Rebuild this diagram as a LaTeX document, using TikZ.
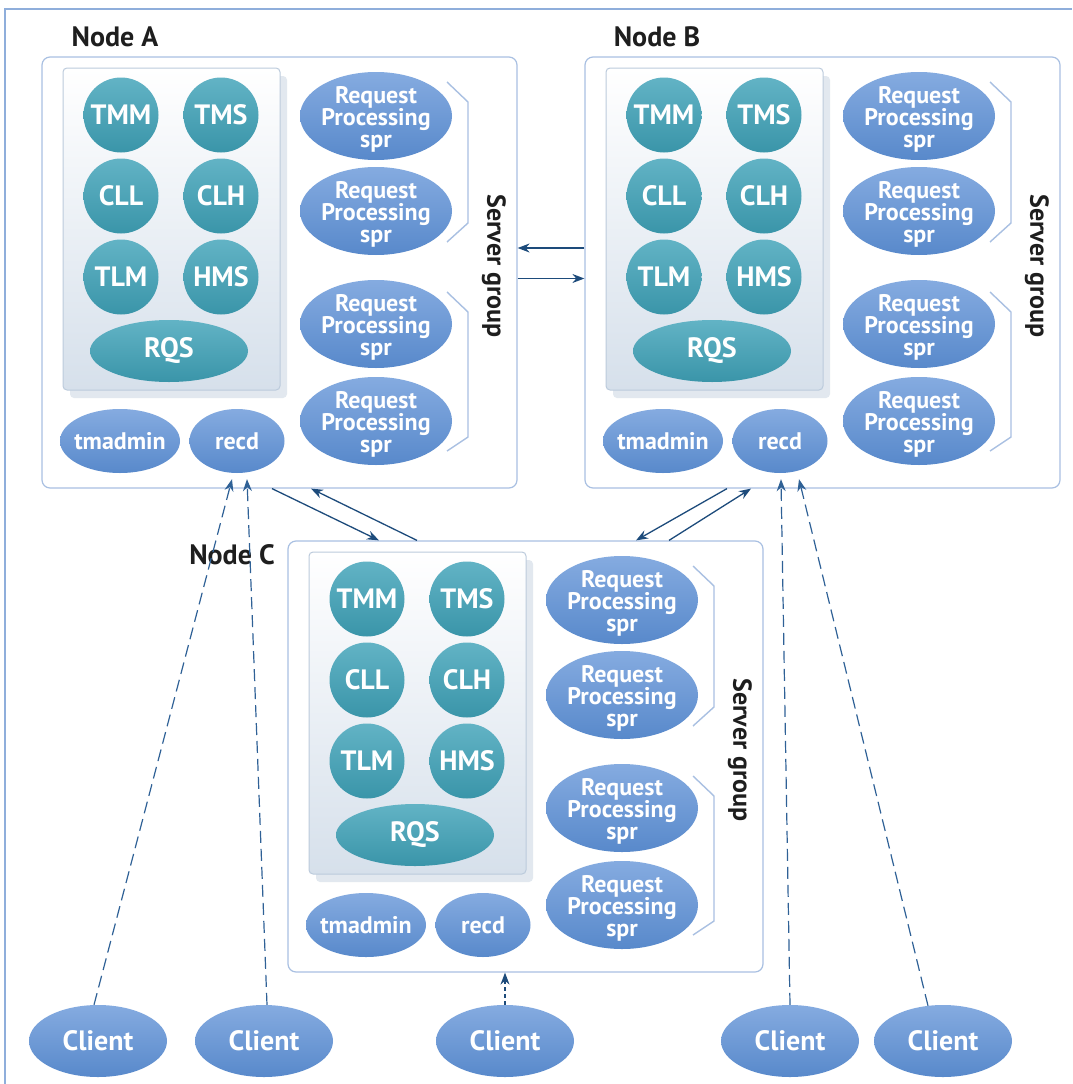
\documentclass[tikz,border=0pt]{standalone}
\usepackage{fontspec}
\setmainfont{PT Sans}
\newfontfamily\cf{PT Sans}
\usetikzlibrary{arrows.meta,calc,shapes.geometric}

\definecolor{framec}{HTML}{8FAEDB}
\definecolor{boxc}{HTML}{A9C0E2}
\definecolor{panelc}{HTML}{BCCBDC}
\definecolor{panelbot}{HTML}{D6E0EB}
\definecolor{shadowc}{HTML}{E2E8EF}
\definecolor{tealtop}{HTML}{62B3C5}
\definecolor{tealmid}{HTML}{409DB2}
\definecolor{tealbot}{HTML}{3A95A9}
\definecolor{bluetop}{HTML}{85ABE0}
\definecolor{bluemid}{HTML}{5C8FD1}
\definecolor{bluebot}{HTML}{5889CB}
\definecolor{navy}{HTML}{1D4B7B}
\definecolor{dashc}{HTML}{2F6196}
\definecolor{inkc}{HTML}{1E1E1E}

\tikzset{
  nodebox/.style={draw=boxc, line width=1.2pt, rounded corners=8pt, fill=white, inner sep=0pt},
  panel/.style={draw=panelc, line width=1pt, rounded corners=4pt, top color=white, bottom color=panelbot, inner sep=0pt},
  ball/.style={circle, minimum size=75pt, inner sep=0pt, top color=tealtop, middle color=tealmid, bottom color=tealbot,
    text=white, font=\cf\bfseries\fontsize{28}{28}\selectfont},
  tealpill/.style={ellipse, inner sep=0pt, top color=tealtop, middle color=tealmid, bottom color=tealbot},
  bluepill/.style={ellipse, inner sep=0pt, top color=bluetop, middle color=bluemid, bottom color=bluebot},
  pilltext/.style={text=white, align=center, inner sep=0pt},
  reqfont/.style={font=\cf\bfseries\fontsize{24}{22}\selectfont, yshift=-3pt},
  bigfont/.style={font=\cf\bfseries\fontsize{28}{28}\selectfont},
  midfont/.style={font=\cf\bfseries\fontsize{24}{24}\selectfont},
  bracket/.style={draw=boxc, line width=1.4pt},
  grouplabel/.style={rotate=-90, text=inkc, font=\cf\bfseries\fontsize{26}{26}\selectfont},
  nodelabel/.style={text=inkc, font=\cf\bfseries\fontsize{28}{28}\selectfont},
  link/.style={draw=navy, line width=1.3pt, -{Stealth[length=12pt,width=9pt]}},
  clientlink/.style={draw=dashc, line width=1.2pt, dash pattern=on 12pt off 6pt, -{Stealth[length=12pt,width=9pt]}},
  shortlink/.style={draw=navy, line width=1.3pt, dash pattern=on 4pt off 3pt, -{Stealth[length=12pt,width=9pt]}},
}

% One server node: services panel, admin processes and two server groups
\newcommand\serverbox[3]{%
\begin{scope}[shift={(#2,#3)}]
  \node[nodebox, minimum width=475pt, minimum height=431pt] (#1box) at (279.5,272.5) {};
  \fill[shadowc, rounded corners=4pt] (70,76) rectangle (287,398);
  \node[panel, minimum width=217pt, minimum height=322pt] (#1panel) at (171.5,229) {};
  \node[ball] (#1tmm) at (121,115) {TMM};
  \node[ball] (#1tms) at (221,115) {TMS};
  \node[ball] (#1cll) at (121,196) {CLL};
  \node[ball] (#1clh) at (221,196) {CLH};
  \node[ball] (#1tlm) at (121,277) {TLM};
  \node[ball] (#1hms) at (221,277) {HMS};
  \node[tealpill, minimum width=158pt, minimum height=62pt,
        label={[pilltext, bigfont]center:RQS}] (#1rqs) at (169,351) {};
  \node[bluepill, minimum width=120pt, minimum height=64pt,
        label={[pilltext, midfont]center:tmadmin}] (#1tmadmin) at (120,441) {};
  \node[bluepill, minimum width=95pt, minimum height=64pt,
        label={[pilltext, midfont]center:recd}] (#1recd) at (237,441) {};
  \foreach \yy/\nn in {116/1,211/2,324/3,421/4}{
    \node[bluepill, minimum width=152pt, minimum height=88pt,
          label={[pilltext, reqfont]center:Request\\Processing\\spr}] (#1spr\nn) at (376,\yy) {};
  }
  \draw[bracket] (447,82) -- (468,102) -- (468,223) -- (447,242);
  \draw[bracket] (447,292) -- (468,312) -- (468,437) -- (447,451);
  \node[grouplabel] (#1group) at (494,266) {Server group};
\end{scope}}

\begin{document}
\begin{tikzpicture}[x=1pt, y=-1pt]
  \useasboundingbox (0,0) rectangle (1072,1084);
  % outer frame edges
  \draw[framec, line width=1.2pt] (5,1084) -- (5,9) -- (1072,9);

  \serverbox{A}{0}{0}
  \serverbox{B}{543}{0}
  \serverbox{C}{246}{484}

  \node[nodelabel] (labA) at (115,37) {Node A};
  \node[nodelabel] (labB) at (657,37) {Node B};
  \node[nodelabel] (labC) at (232,555) {Node C};

  % links between nodes
  \draw[link] ($(Bbox.west)+(0,-24.5)$) -- ($(Abox.east)+(0,-24.5)$);
  \draw[link] ($(Abox.east)+(0,6)$) -- ($(Bbox.west)+(0,6)$);
  \draw[link] ($(Abox.south)+(-7.5,0)$) -- ($(Cbox.north)+(-146.5,0)$);
  \draw[link] ($(Cbox.north)+(-108.5,0)$) -- ($(Abox.south)+(31.5,0)$);
  \draw[link] ($(Bbox.south)+(-95.5,0)$) -- ($(Cbox.north)+(110.5,0)$);
  \draw[link] ($(Cbox.north)+(143.5,0)$) -- ($(Bbox.south)+(-71.5,0)$);

  % clients
  \foreach \xx/\nn in {98/1,264/2,505/3,790/4,943/5}{
    \node[bluepill, minimum width=138pt, minimum height=72pt,
          label={[pilltext, bigfont]center:Client}] (cl\nn) at (\xx,1041) {};
  }
  \draw[clientlink] ($(cl1.north)+(-4,0)$) -- ($(Arecd.south)+(-5,6)$);
  \draw[clientlink] ($(cl2.north)+(3,0)$) -- ($(Arecd.south)+(10,6)$);
  \draw[shortlink] (cl3.north) -- ($(Cbox.south)+(-20.5,0)$);
  \draw[clientlink] (cl4.north) -- ($(Brecd.south)+(1,6)$);
  \draw[clientlink] ($(cl5.north)+(-15,1)$) -- ($(Brecd.south)+(19,6)$);
\end{tikzpicture}
\end{document}
